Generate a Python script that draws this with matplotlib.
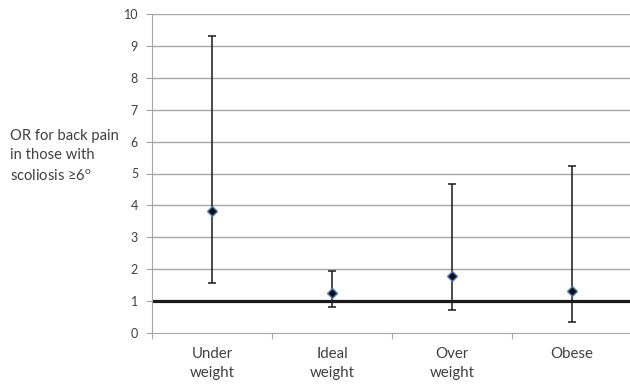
import matplotlib.pyplot as plt
import numpy as np

categories = ["Under\nweight", "Ideal\nweight", "Over\nweight", "Obese"]
odds_ratio = [3.82, 1.24, 1.80, 1.31]
ci_lower = [1.58, 0.80, 0.71, 0.34]
ci_upper = [9.30, 1.93, 4.66, 5.25]

plt.rcParams["font.family"] = ["Lato", "DejaVu Sans"]
plt.rcParams["mathtext.fontset"] = "custom"
plt.rcParams["mathtext.rm"] = "Lato"

fig = plt.figure(figsize=(6.3, 3.84), dpi=100)
ax = fig.add_axes([152 / 630, 1 - 333 / 384, 480 / 630, 319 / 384])

x = np.arange(len(categories))
or_arr = np.array(odds_ratio)
yerr = [or_arr - np.array(ci_lower), np.array(ci_upper) - or_arr]

for y in range(1, 11):
    ax.axhline(y, color="#a6a6a6", linewidth=1, zorder=0)
ax.axhline(1, color="#1a1a1a", linewidth=2.3, zorder=1)

ax.errorbar(x, or_arr, yerr=yerr, fmt="none", ecolor="#1a1a1a",
            elinewidth=1.1, capsize=2.6, capthick=1.1, zorder=2)
ax.plot(x, or_arr, linestyle="none", marker="D", markersize=5.5,
        markerfacecolor="#111111", markeredgecolor="#4f81bd",
        markeredgewidth=1, zorder=3)

ax.set_xlim(-0.5, len(categories) - 0.5)
ax.set_ylim(0, 10)
ax.set_yticks(range(0, 11))
ax.set_xticks(np.arange(-0.5, len(categories), 1.0), minor=False)
ax.set_xticklabels([])
ax.set_xticks(x, minor=True)
ax.set_xticklabels(categories, minor=True, fontsize=10.8, color="#404040",
                   linespacing=1.45)
ax.tick_params(axis="x", which="minor", length=0, pad=10)
ax.tick_params(axis="x", which="major", length=4, color="#a6a6a6")
ax.tick_params(axis="y", length=4, color="#a6a6a6", labelsize=9,
               labelcolor="#404040", pad=6)

for side in ["top", "right"]:
    ax.spines[side].set_visible(False)
ax.spines["left"].set_color("#a6a6a6")
ax.spines["bottom"].set_color("#a6a6a6")

fig.text(10 / 630, 1 - 129 / 384,
         "OR for back pain\nin those with\nscoliosis \u22656$^{\\rm o}$",
         fontsize=10.6, color="#404040", va="top", ha="left", linespacing=1.45)

fig.savefig("out.png", dpi=100)
